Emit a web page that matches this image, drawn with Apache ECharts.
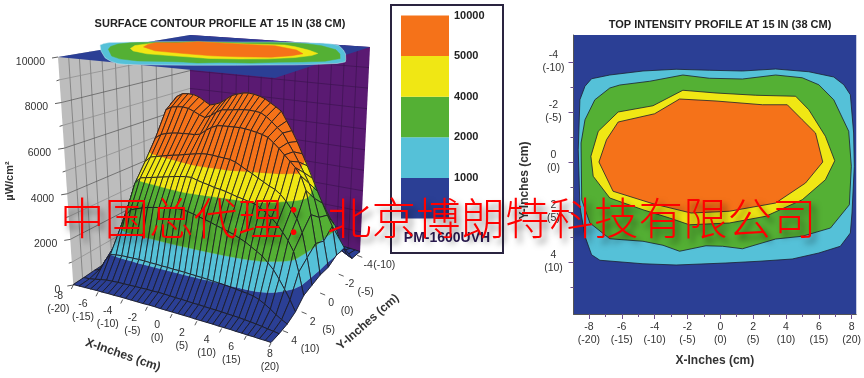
<!DOCTYPE html>
<html>
<head>
<meta charset="utf-8">
<style>html,body{margin:0;padding:0;background:#fff}#chart{width:864px;height:378px}</style>
<script src="https://cdn.jsdelivr.net/npm/echarts@6/dist/echarts.min.js"></script>
</head>
<body>
<div id="chart"></div>
<script>
// surface columns: x = -9 .. 8 every 0.5, rows: y = -5 .. 6 every 1 (uW/cm2)
const surfaceRows = [
  [40,60,80,100,120,130,140,150,150,160,160,170,170,180,180,180,170,170,170,170,170,170,170,170,170,170,160,160,150,140,130,110,90,70,50],
  [60,120,300,420,520,590,640,680,710,730,750,770,790,810,820,810,800,790,780,790,800,810,830,840,830,810,790,760,720,660,570,470,350,220,110],
  [90,720,1180,1500,1820,2150,2480,2650,2800,2920,3020,3180,3350,3550,3700,3550,3420,3320,3260,3230,3210,3200,3190,3180,3160,3150,3100,2950,2700,2420,2200,2200,1900,1300,950],
  [200,5560,6400,6900,7250,7420,7450,7440,7350,7180,7020,7100,7210,7420,7620,7720,7800,7830,7800,7740,7640,7480,7320,7150,6720,6300,5830,5300,4780,4250,3700,3200,2700,2250,1000],
  [200,4420,5200,5900,6750,6920,6970,7000,6960,6850,6720,6620,6750,6950,7100,7130,7170,7210,7240,7250,7230,7200,7050,6850,6620,6400,6000,5620,5200,4760,4320,3700,2900,1900,800],
  [180,3200,4150,4850,5550,5760,5850,5910,5950,5970,5990,6000,6060,6280,6450,6570,6600,6610,6620,6630,6610,6570,6520,6460,6370,6170,5950,5700,5460,5220,4900,4300,3300,2100,800],
  [170,2300,3000,3700,4620,4880,4950,5020,5090,5150,5200,5270,5330,5390,5440,5460,5450,5430,5410,5390,5310,5180,5040,4920,4780,4650,4520,4420,4250,4000,3700,3350,2800,1800,700],
  [130,1200,2100,2950,3800,4120,4180,4240,4300,4360,4420,4480,4530,4570,4580,4500,4440,4390,4320,4290,4240,4170,4110,4060,4000,3950,3830,3680,3500,3280,3000,2700,2300,1500,600],
  [90,600,1100,1900,2550,2880,2990,3080,3160,3220,3270,3310,3350,3390,3400,3360,3300,3230,3170,3100,3020,2950,2880,2800,2700,2600,2460,2320,2180,1950,1720,1400,1050,680,260],
  [70,200,650,1000,1050,1080,1090,1100,1110,1110,1100,1100,1090,1090,1080,1080,1070,1060,1050,1040,1030,1010,1000,980,960,930,900,880,840,760,640,500,340,210,100],
  [40,60,110,170,220,240,260,270,280,290,300,310,310,320,320,310,300,300,290,280,280,270,260,260,250,240,230,220,200,180,160,130,100,70,40],
  [20,30,40,50,60,60,70,70,80,80,80,80,80,90,90,80,80,80,80,80,80,70,70,70,70,60,60,60,50,50,40,40,30,30,20]
];

// contour outlines in inches, [x, y]
const contour1000 = [[-7.84,-3.33],[-6.73,-3.48],[-4.71,-3.64],[-2.69,-3.71],[-0.67,-3.67],[1.35,-3.64],[3.37,-3.72],[5.39,-3.61],[6.91,-3.4],[7.52,-3.09],[7.92,-2.69],[8.12,-1.16],[8.16,0.17],[8.02,2.04],[7.92,2.84],[7.31,3.37],[6,3.64],[4.38,3.88],[2.36,3.97],[0.34,4.04],[-2.69,4.12],[-4.71,4.07],[-7.33,3.93],[-7.84,3.71],[-8.24,2.97],[-8.55,1.77],[-8.65,-0.49],[-8.55,-2.49],[-8.24,-3.03]];
const contour2000 = [[-6.73,-2.96],[-6.12,-3.08],[-4.3,-3.23],[-2.28,-3.48],[-0.67,-3.35],[1.35,-3.32],[3.37,-3.48],[4.99,-3.37],[6,-3.09],[6.91,-2.49],[7.82,-1.23],[7.98,0.17],[7.86,1.71],[6.71,2.64],[4.99,2.97],[3.37,3.08],[1.35,3.47],[0.14,3.37],[-0.87,3.35],[-2.48,3.57],[-3.49,3.33],[-4.71,3.17],[-6.73,3.07],[-7.94,2.44],[-8.44,1.51],[-8.48,-0.76],[-8.24,-1.69],[-7.64,-2.49]];
const contour4000 = [[-6.22,-2],[-4.1,-2.25],[-2.28,-2.87],[-0.26,-2.76],[2.16,-2.67],[4.59,-2.63],[5.39,-2.09],[6.4,-1.03],[6.97,-0.05],[6.4,0.71],[4.99,1.51],[2.77,2.17],[0.55,2.44],[-1.88,2.51],[-3.09,2.24],[-4.71,1.91],[-6.73,1.44],[-7.74,0.57],[-7.88,-0.23],[-7.43,-1.23]];
const contour5000 = [[-6.22,-1.6],[-4,-1.93],[-2.48,-2.52],[-0.26,-2.44],[2.57,-2.29],[4.08,-2.29],[4.99,-1.69],[5.8,-1.16],[6.24,0],[5.19,0.84],[3.37,1.64],[0.55,1.97],[-1.78,2.04],[-4.1,1.67],[-6.53,1.17],[-7.39,0],[-6.93,-0.89]];

const bandColors = ['#2b3f95', '#55c1d8', '#54b034', '#f0e714', '#f57219'];
const bandLevels = [1000, 2000, 4000, 5000];
const legendLabels = ['1000', '2000', '4000', '5000', '10000'];

const xTicks = [-8, -6, -4, -2, 0, 2, 4, 6, 8];
const xTicksCm = ['(-20)', '(-15)', '(-10)', '(-5)', '(0)', '(5)', '(10)', '(15)', '(20)'];
const yTicks = [-4, -2, 0, 2, 4];
const yTicksCm = ['(-10)', '(-5)', '(0)', '(5)', '(10)'];
const zTicks = [0, 2000, 4000, 6000, 8000, 10000];

// wall grid stops, fraction along each wall
const grayWallStops = [0.08, 0.16, 0.24, 0.33, 0.43, 0.53, 0.63, 0.74, 0.86];
const purpleWallStops = [0.11, 0.18, 0.26, 0.33, 0.4, 0.46, 0.53, 0.59, 0.66, 0.72, 0.79, 0.86, 0.93];

// box corners on the page
const floorBack = [190, 213], floorRight = [360, 252.5], floorLeft = [73.3, 285], floorFront = [271, 343];
const topBack = [190, 35], topRight = [370, 47], topLeft = [58, 57], topFront = [275, 78];

function bilerp(a, b, c, d, u, v) {
  const w0 = (1 - u) * (1 - v), w1 = u * (1 - v), w2 = (1 - u) * v, w3 = u * v;
  return [a[0] * w0 + b[0] * w1 + c[0] * w2 + d[0] * w3, a[1] * w0 + b[1] * w1 + c[1] * w2 + d[1] * w3];
}

// u: left -> front edge, v: back -> front, z in uW/cm2
function project(u, v, z) {
  const f = bilerp(floorBack, floorRight, floorLeft, floorFront, u, v);
  const t = bilerp(topBack, topRight, topLeft, topFront, u, v);
  const w = z / 10000;
  return [f[0] + (t[0] - f[0]) * w, f[1] + (t[1] - f[1]) * w];
}

function clipAbove(poly, level, keepAbove) {
  const out = [];
  for (let i = 0; i < poly.length; i++) {
    const a = poly[i], b = poly[(i + 1) % poly.length];
    const aIn = keepAbove ? a[2] >= level : a[2] <= level;
    const bIn = keepAbove ? b[2] >= level : b[2] <= level;
    if (aIn) out.push(a);
    if (aIn !== bIn) {
      const t = (level - a[2]) / (b[2] - a[2]);
      out.push([a[0] + (b[0] - a[0]) * t, a[1] + (b[1] - a[1]) * t, level]);
    }
  }
  return out;
}

const nRows = surfaceRows.length, nCols = surfaceRows[0].length;
const cells = [];
for (let c = 0; c < nCols - 1; c++) {
  for (let r = 0; r < nRows - 1; r++) cells.push([c, r]);
}

function renderCell(params, api) {
  const [c, r] = cells[params.dataIndex];
  const toPix = p => api.coord(project(p[0] / (nCols - 1), p[1] / (nRows - 1), p[2]));
  const quad = [[c, r, surfaceRows[r][c]], [c + 1, r, surfaceRows[r][c + 1]], [c + 1, r + 1, surfaceRows[r + 1][c + 1]], [c, r + 1, surfaceRows[r + 1][c]]];
  const children = [];
  for (let b = 0; b < bandColors.length; b++) {
    let poly = quad;
    if (b > 0) poly = clipAbove(poly, bandLevels[b - 1], true);
    if (poly.length && b < bandLevels.length) poly = clipAbove(poly, bandLevels[b], false);
    if (poly.length < 3) continue;
    children.push({ type: 'polygon', shape: { points: poly.map(toPix) }, style: { fill: bandColors[b], stroke: bandColors[b], lineWidth: 0.4 } });
  }
  children.push({ type: 'polygon', shape: { points: quad.map(toPix) }, style: { fill: 'none', stroke: '#1c1c24', lineWidth: 0.9 } });
  return { type: 'group', children };
}

function wallLine(api, a, b, color, width) {
  return { type: 'line', shape: { x1: api.coord(a)[0], y1: api.coord(a)[1], x2: api.coord(b)[0], y2: api.coord(b)[1] }, style: { stroke: color, lineWidth: width } };
}

function renderWalls(params, api) {
  const children = [];
  const gray = [project(0, 1, 0), project(0, 1, 10000), project(0, 0, 10000), project(0, 0, 0)];
  const purple = [project(0, 0, 0), project(0, 0, 10000), project(1, 0, 10000), project(1, 0, 0)];
  children.push({ type: 'polygon', shape: { points: gray.map(p => api.coord(p)) }, style: { fill: '#bdbdbd' } });
  children.push({ type: 'polygon', shape: { points: purple.map(p => api.coord(p)) }, style: { fill: '#5a1a72' } });
  grayWallStops.forEach(s => children.push(wallLine(api, project(0, 1 - s, 0), project(0, 1 - s, 10000), '#6e6e6e', 0.7)));
  purpleWallStops.forEach(s => children.push(wallLine(api, project(s, 0, 0), project(s, 0, 10000), '#3c1250', 0.7)));
  for (let z = 1000; z < 10000; z += 1000) {
    const col = z % 2000 === 0 ? '#555' : '#8a8a8a';
    children.push(wallLine(api, project(0, 1, z), project(0, 0, z), col, 0.7));
    children.push(wallLine(api, project(0, 0, z), project(1, 0, z), '#3c1250', 0.7));
  }
  return { type: 'group', children };
}

// the map on the lid of the box sits on its own scale in the source image
const lidScaleX = [14.5, 14, 12.6, 11.7];
const lidCenterX = [227, 228, 230, 230];
const lidCenterY = [53, 52.5, 51.5, 50.6];
const lidTilt = [0.05, 0.12, 0.3, 0.5];

function lidPoint(p, i) {
  return [lidCenterX[i] + p[0] * lidScaleX[i] + p[1] * 1.2, lidCenterY[i] + p[0] * lidTilt[i] + p[1] * 3];
}

function renderLid(params, api) {
  const children = [{ type: 'polygon', shape: { points: [topLeft, topBack, topRight, topFront].map(p => api.coord(p)) }, style: { fill: bandColors[0] } }];
  [contour1000, contour2000, contour4000, contour5000].forEach((line, i) => {
    children.push({ type: 'polygon', shape: { points: line.map(p => api.coord(lidPoint(p, i))) }, style: { fill: bandColors[i + 1], stroke: i === 0 ? '#cfeaf2' : bandColors[i + 1], lineWidth: 0.5 } });
  });
  return { type: 'group', children };
}

const LABEL_FONT = '10.5px "Liberation Sans", Arial, sans-serif';

function renderAxes3d(params, api) {
  const children = [];
  const txt = (p, text, align, opts) => children.push(Object.assign({
    type: 'text',
    x: api.coord(p)[0], y: api.coord(p)[1],
    style: { text, font: LABEL_FONT, fill: '#333', align: align || 'center', verticalAlign: 'middle', lineHeight: 13 }
  }, opts || {}));
  const tick = (a, b) => children.push(wallLine(api, a, b, '#333', 0.8));

  xTicks.forEach((v, i) => {
    const p = project((v + 8) / 16, 1, 0);
    tick(p, [p[0] - 2, p[1] + 4]);
    txt([p[0] + (v === 8 ? -1 : -15), p[1] + 18], v + '\n' + xTicksCm[i]);
  });
  yTicks.forEach((v, i) => {
    const p = project(1, (v + 4.3) / 9.6, 0);
    tick(p, [p[0] + 5, p[1] + 2]);
    txt([p[0] + 11, p[1] + 10], String(v));
    txt([p[0] + 27, p[1] + (v === -4 ? 10 : 18)], yTicksCm[i]);
  });
  for (let z = 0; z <= 10000; z += 1000) {
    const p = project(0, 1, z);
    tick(p, [p[0] - (z % 2000 === 0 ? 6 : 3), p[1] + 1]);
  }
  zTicks.forEach(z => {
    const p = project(0, 1, z);
    txt([p[0] - 13, p[1] + 5], String(z), 'right');
  });
  const bold = '700 12px "Liberation Sans", Arial, sans-serif';
  txt([123, 355], 'X-Inches (cm)', 'center', { rotation: -0.33, style: { text: 'X-Inches (cm)', font: bold, fill: '#333', align: 'center', verticalAlign: 'middle' } });
  txt([368, 322], 'Y-Inches (cm)', 'center', { rotation: 0.72, style: { text: 'Y-Inches (cm)', font: bold, fill: '#333', align: 'center', verticalAlign: 'middle' } });
  txt([9.5, 181], 'µW/cm²', 'center', { rotation: Math.PI / 2, style: { text: 'µW/cm²', font: '700 11px "Liberation Sans", Arial, sans-serif', fill: '#333', align: 'center', verticalAlign: 'middle' } });
  return { type: 'group', children };
}

function renderContour(params, api) {
  const line = [contour1000, contour2000, contour4000, contour5000][params.dataIndex];
  return { type: 'polygon', shape: { points: line.map(p => api.coord(p)) }, style: { fill: bandColors[params.dataIndex + 1], stroke: '#1c2030', lineWidth: 0.8 } };
}

const pageSeries = (renderItem, data) => ({
  type: 'custom', coordinateSystem: 'cartesian2d', xAxisIndex: 0, yAxisIndex: 0,
  renderItem, data, silent: true, clip: false, progressive: 0, animation: false
});

const labelAxisFont = { fontFamily: '"Liberation Sans", Arial, sans-serif', fontSize: 10.5, color: '#333', lineHeight: 13 };
const tickStyle = { lineStyle: { color: '#6b4f8f', width: 1 } };
const axisNameStyle = { fontFamily: '"Liberation Sans", Arial, sans-serif', fontSize: 12, fontWeight: 'bold', color: '#333' };
const titleStyle = { fontFamily: '"Liberation Sans", Arial, sans-serif', fontSize: 11, fontWeight: 'bold', color: '#222' };
const xMinor = [-7, -5, -3, -1, 1, 3, 5, 7];
const yMinor = [-3, -1, 1, 3, 5];

const option = {
  animation: false,
  title: [
    { text: 'SURFACE CONTOUR PROFILE AT 15 IN (38 CM)', left: 215, top: 13, textAlign: 'center', textStyle: titleStyle },
    { text: 'TOP INTENSITY PROFILE AT 15 IN (38 CM)', left: 715, top: 14, textAlign: 'center', textStyle: titleStyle }
  ],
  grid: [
    { left: 0, top: 0, width: 864, height: 378 },
    { left: 573.5, top: 35, width: 284, height: 279, show: true, backgroundColor: bandColors[0], borderWidth: 0 },
    { left: 401, top: 15.5, width: 48, height: 203 }
  ],
  xAxis: [
    { gridIndex: 0, type: 'value', min: 0, max: 864, show: false },
    {
      gridIndex: 1, type: 'value', min: -8.94, max: 8.28, position: 'bottom',
      name: 'X-Inches (cm)', nameLocation: 'middle', nameGap: 41, nameTextStyle: axisNameStyle,
      axisLine: { onZero: false, lineStyle: { color: '#555' } }, splitLine: { show: false },
      axisTick: Object.assign({ length: 5, customValues: xTicks }, tickStyle),
      axisLabel: Object.assign({ customValues: xTicks, margin: 7, formatter: v => v + '\n' + xTicksCm[xTicks.indexOf(v)] }, labelAxisFont)
    },
    {
      gridIndex: 1, type: 'value', min: -8.94, max: 8.28, position: 'bottom',
      axisLine: { show: false, onZero: false }, splitLine: { show: false }, axisLabel: { show: false },
      axisTick: Object.assign({ length: 3, customValues: xMinor }, tickStyle)
    },
    { gridIndex: 2, type: 'category', data: ['legend'], show: false }
  ],
  yAxis: [
    { gridIndex: 0, type: 'value', min: 0, max: 378, inverse: true, show: false },
    {
      gridIndex: 1, type: 'value', min: -5.08, max: 6.08, inverse: true, position: 'left',
      name: 'Y-Inches (cm)', nameLocation: 'middle', nameGap: 43, nameRotate: 90,
      nameTextStyle: Object.assign({ padding: [0, 12, 0, 0] }, axisNameStyle),
      axisLine: { onZero: false, lineStyle: { color: '#555' } }, splitLine: { show: false },
      axisTick: Object.assign({ length: 5, customValues: yTicks }, tickStyle),
      axisLabel: Object.assign({ customValues: yTicks, margin: 20, align: 'center', formatter: v => v + '\n' + yTicksCm[yTicks.indexOf(v)] }, labelAxisFont)
    },
    {
      gridIndex: 1, type: 'value', min: -5.08, max: 6.08, inverse: true, position: 'left',
      axisLine: { show: false, onZero: false }, splitLine: { show: false }, axisLabel: { show: false },
      axisTick: Object.assign({ length: 3, customValues: yMinor }, tickStyle)
    },
    {
      gridIndex: 2, type: 'value', min: 0, max: 5, interval: 1, position: 'right',
      axisLine: { show: false }, axisTick: { show: false }, splitLine: { show: false },
      axisLabel: { margin: 5, fontFamily: '"Liberation Sans", Arial, sans-serif', fontSize: 11, fontWeight: 'bold', color: '#222', formatter: v => (v > 0 ? legendLabels[v - 1] : '') }
    }
  ],
  series: [
    pageSeries(renderWalls, [[0, 0]]),
    pageSeries(renderCell, cells),
    pageSeries(renderLid, [[0, 0]]),
    pageSeries(renderAxes3d, [[0, 0]]),
    {
      type: 'custom', coordinateSystem: 'cartesian2d', xAxisIndex: 1, yAxisIndex: 1,
      renderItem: renderContour, data: [[0, 0], [0, 0], [0, 0], [0, 0]], clip: false, silent: true
    }
  ].concat(bandColors.map((color, i) => ({
    type: 'bar', xAxisIndex: 3, yAxisIndex: 3, stack: 'legend', barWidth: '100%',
    name: legendLabels[i], data: [1], itemStyle: { color }, silent: true
  }))),
  graphic: [
    { type: 'rect', z: 1, shape: { x: 391, y: 5, width: 112, height: 248 }, style: { fill: 'none', stroke: '#2a2440', lineWidth: 2 } },
    { type: 'text', z: 10, x: 447, y: 238, style: { text: 'PM-1600UVH', font: '700 14px "Liberation Sans", Arial, sans-serif', fill: '#2a1a50', align: 'center', verticalAlign: 'middle' } },
    {
      type: 'text', z: 100, x: 60, y: 218,
      style: {
        text: '中国总代理：北京博朗特科技有限公司', font: '300 44.5px "Noto Sans CJK SC", sans-serif', fill: '#f00',
        align: 'left', verticalAlign: 'middle', textShadowColor: 'rgba(0,0,0,0.5)', textShadowBlur: 6, textShadowOffsetX: 4, textShadowOffsetY: 5
      }
    }
  ]
};

const chart = echarts.init(document.getElementById('chart'), null, { renderer: 'canvas' });
chart.setOption(option);
</script>
</body>
</html>
